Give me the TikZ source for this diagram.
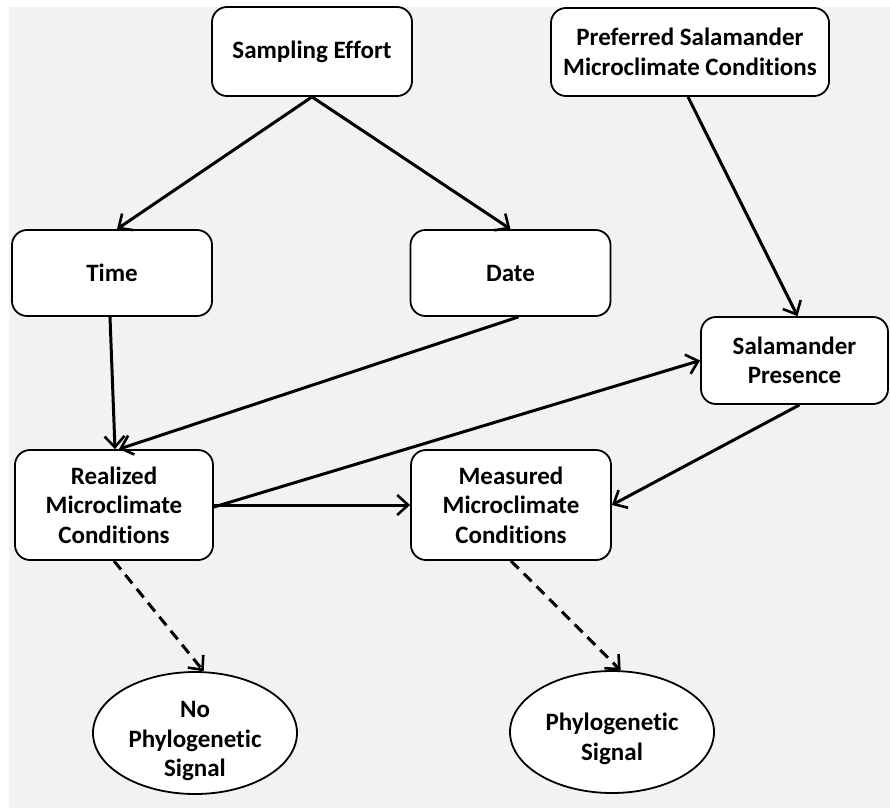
\documentclass[tikz,border=0pt]{standalone}
\usepackage{fontspec}
\setmainfont[RawFeature=-liga]{Carlito}
\usetikzlibrary{shapes.geometric,arrows.meta}
\definecolor{bggray}{RGB}{242,242,242}
\begin{document}
\begin{tikzpicture}[x=1pt,y=-1pt,
  every node/.style={font=\fontsize{25}{29.5}\selectfont\bfseries, align=center, inner sep=0pt},
  boxnode/.style={draw, line width=1.8pt, rounded corners=15pt, fill=white, minimum width=200pt},
  ellnode/.style={draw, ellipse, line width=1.8pt, fill=white, minimum width=204pt, minimum height=122pt},
  ltext/.style={font=\fontsize{25}{29.5}\selectfont\bfseries, align=center},
  conn/.style={line width=3pt, -{Straight Barb[length=11pt,width=20pt,line width=2.6pt]}},
  dconn/.style={conn, dash pattern=on 11pt off 7pt}
]
\useasboundingbox (0,0) rectangle (890,808);
\fill[white] (0,0) rectangle (890,808);
\fill[bggray] (9,7) rectangle (890,808);

\node[boxnode, minimum height=89pt] (se) at (312,51.5) {Sampling Effort};
\node[boxnode, minimum width=278pt, minimum height=88pt] (pref) at (690,52) {Preferred Salamander\\Microclimate Conditions};
\node[boxnode, minimum height=86pt] (time) at (112,273) {Time};
\node[boxnode, minimum height=86pt] (date) at (510.5,273) {Date};
\node[boxnode, minimum width=187pt, minimum height=87pt] (sal) at (794.5,360.5) {Salamander\\Presence};
\node[boxnode, minimum width=198pt, minimum height=110pt] (real) at (114,505) {Realized\\Microclimate\\Conditions};
\node[boxnode, minimum height=110pt] (meas) at (511,505) {Measured\\Microclimate\\Conditions};
\node[ellnode] (noph) at (195,733) {};
\node[ltext] (nophtext) at ([yshift=-8pt]noph.center) {No\\Phylogenetic\\Signal};
\node[ellnode] (phylo) at (612,732) {};
\node[ltext] (phylotext) at ([yshift=-7pt]phylo.center) {Phylogenetic\\Signal};

\draw[conn] (se.south) -- ([xshift=5pt]time.north);
\draw[conn] (se.south) -- (date.north);
\draw[conn] ([xshift=-2pt]pref.south) -- ([xshift=3pt]sal.north);
\draw[conn] ([xshift=-2pt]time.south) -- ([xshift=1pt]real.north);
\draw[conn] ([xshift=8pt]date.south) -- ([xshift=5pt]real.north);
\draw[conn] ([yshift=-2pt]real.east) -- (sal.west);
\draw[conn] (real.east) -- (meas.west);
\draw[conn] ([xshift=5pt]sal.south) -- (meas.east);
\draw[dconn] (real.south) -- (noph.82);
\draw[dconn] (meas.south) -- (phylo.82);
\end{tikzpicture}
\end{document}
